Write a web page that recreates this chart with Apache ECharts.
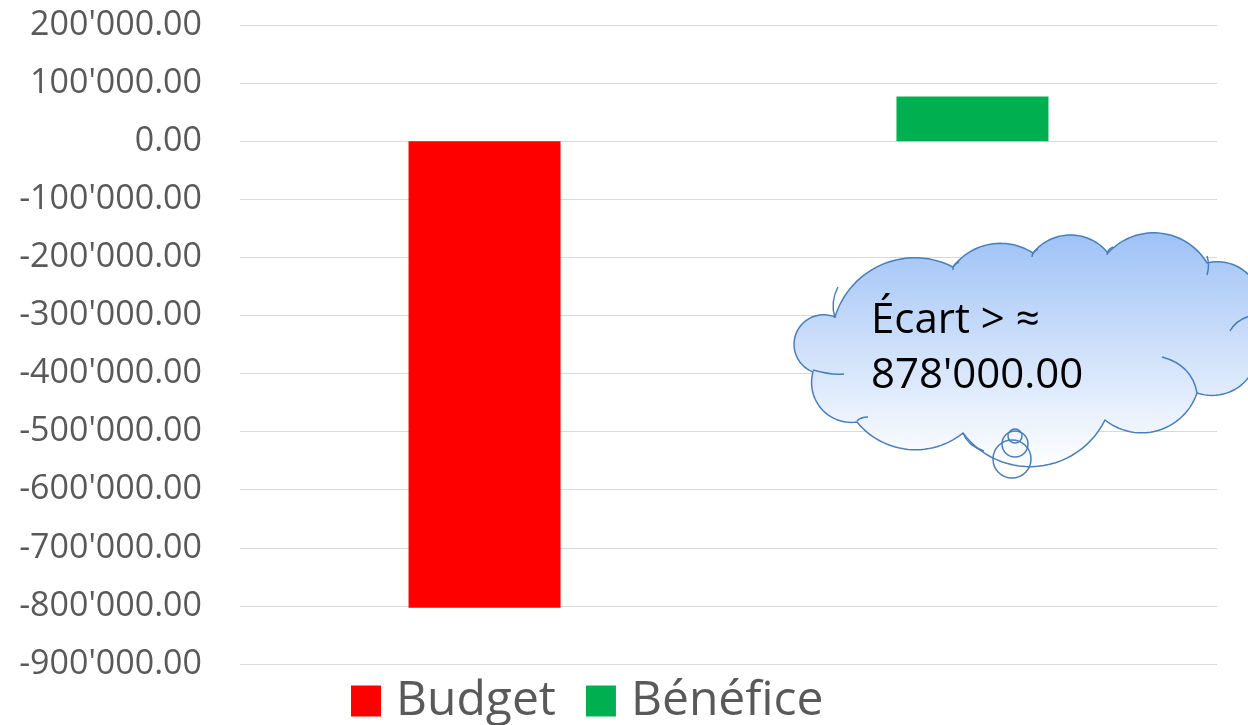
<!DOCTYPE html>
<html>
<head>
<meta charset="utf-8">
<script src="https://cdn.jsdelivr.net/npm/echarts@6/dist/echarts.min.js"></script>
<style>
html,body{margin:0;padding:0;background:#fff;}
#main{width:1248px;height:725px;}
</style>
</head>
<body>
<div id="main"></div>
<script>
// ---- data ----
const categories = [''];
const seriesNames = ['Budget', 'Bénéfice'];
const budgetValues = [-803000];
const beneficeValues = [77000];
const yMin = -900000;
const yMax = 200000;
const yInterval = 100000;
const calloutLines = ['Écart > ≈', "878'000.00"];

function fmt(v) {
  const s = Math.abs(v).toFixed(2);
  const parts = s.split('.');
  const ip = parts[0].replace(/\B(?=(\d{3})+(?!\d))/g, "'");
  return (v < 0 ? '-' : '') + ip + '.' + parts[1];
}

// ---- cloud callout shape (annotation decoration) ----
const cloudPts = [[835,317],[813,372],[857,422],[963,433],[1105,420],[1197,393],[1254,330],[1207,263],[1108,253],[1033,253],[953,267]];
const cloudBulge = [30,18,22,40,25,28,28,25,18,16,30];
function cloudPolygon(pts, bulges) {
  const out = [];
  for (let i = 0; i < pts.length; i++) {
    const p0 = pts[i], p1 = pts[(i + 1) % pts.length];
    const dx = p1[0] - p0[0], dy = p1[1] - p0[1];
    const c = Math.hypot(dx, dy);
    const tx = dx / c, ty = dy / c;
    const nx = -ty, ny = tx; // outward normal
    const h = bulges[i];
    const r = (c * c / 4 + h * h) / (2 * h);
    const mx = (p0[0] + p1[0]) / 2, my = (p0[1] + p1[1]) / 2;
    const cx = mx + nx * (h - r), cy = my + ny * (h - r);
    const a0 = Math.atan2(p0[1] - cy, p0[0] - cx);
    let a1 = Math.atan2(p1[1] - cy, p1[0] - cx);
    while (a1 > a0) a1 -= Math.PI * 2;
    const steps = 28;
    for (let k = 0; k < steps; k++) {
      const a = a0 + (a1 - a0) * k / steps;
      out.push([cx + r * Math.cos(a), cy + r * Math.sin(a)]);
    }
  }
  return out;
}
const innerArcs = [
  [[835,318],[830,302],[838,287]],
  [[953,270],[952,265],[959,262]],
  [[1032,257],[1032,252],[1038,249]],
  [[1107,255],[1107,250],[1113,247]],
  [[1207,275],[1210,265],[1207,256]],
  [[1230,331],[1236,320],[1250,316]],
  [[1162,357],[1192,365],[1197,393]],
  [[963,433],[968,446],[984,451]],
  [[857,421],[861,417],[868,417]],
  [[813,370],[830,375],[844,374]]
];

const chart = echarts.init(document.getElementById('main'));
const labelFont = '"Open Sans", sans-serif';
const strokeCol = '#4a7ebb';

const graphics = [
  {
    type: 'polygon', z: 100,
    shape: { points: cloudPolygon(cloudPts, cloudBulge) },
    style: {
      fill: { type: 'linear', x: 0, y: 0, x2: 0, y2: 1,
        colorStops: [{ offset: 0, color: '#9ec2f6' }, { offset: 1, color: '#ffffff' }] },
      stroke: strokeCol, lineWidth: 1.5
    }
  }
];
innerArcs.forEach(function (a) {
  graphics.push({ type: 'bezierCurve', z: 101,
    shape: { x1: a[0][0], y1: a[0][1], cpx1: a[1][0], cpy1: a[1][1], x2: a[2][0], y2: a[2][1] },
    style: { fill: null, stroke: strokeCol, lineWidth: 1.5 } });
});
graphics.push(
  { type: 'circle', z: 101, shape: { cx: 1012, cy: 459, r: 19 }, style: { fill: null, stroke: strokeCol, lineWidth: 1.5 } },
  { type: 'circle', z: 101, shape: { cx: 1015, cy: 444, r: 13 }, style: { fill: null, stroke: strokeCol, lineWidth: 1.5 } },
  { type: 'circle', z: 101, shape: { cx: 1015, cy: 436, r: 7 }, style: { fill: null, stroke: strokeCol, lineWidth: 1.5 } },
  { type: 'text', z: 102, style: { text: calloutLines[0], x: 871, y: 321, fill: '#000', font: '42px "Open Sans", sans-serif', verticalAlign: 'middle' } },
  { type: 'text', z: 102, style: { text: calloutLines[1], x: 871, y: 376, fill: '#000', font: '42px "Open Sans", sans-serif', verticalAlign: 'middle' } }
);

chart.setOption({
  animation: false,
  backgroundColor: '#ffffff',
  grid: { left: 240, right: 31, top: 25, bottom: 61, containLabel: false },
  legend: {
    left: 346, top: 672,
    itemWidth: 30, itemHeight: 31, itemGap: 30,
    icon: 'rect',
    textStyle: { fontFamily: labelFont, fontSize: 48, color: '#595959', lineHeight: 48, padding: [0,0,0,10] },
    data: seriesNames
  },
  xAxis: {
    type: 'category', data: categories,
    axisLine: { show: false }, axisTick: { show: false }, axisLabel: { show: false },
    splitLine: { show: false }
  },
  yAxis: {
    type: 'value', min: yMin, max: yMax, interval: yInterval,
    axisLine: { show: false }, axisTick: { show: false },
    axisLabel: { formatter: fmt, fontFamily: labelFont, fontSize: 34, color: '#595959', margin: 38 },
    splitLine: { lineStyle: { color: '#d9d9d9', width: 1 } }
  },
  series: [
    { name: seriesNames[0], type: 'bar', data: budgetValues, barWidth: 152, barGap: '221%', itemStyle: { color: '#ff0000' } },
    { name: seriesNames[1], type: 'bar', data: beneficeValues, barWidth: 152, itemStyle: { color: '#00b050' } }
  ],
  graphic: graphics
});
</script>
</body>
</html>
